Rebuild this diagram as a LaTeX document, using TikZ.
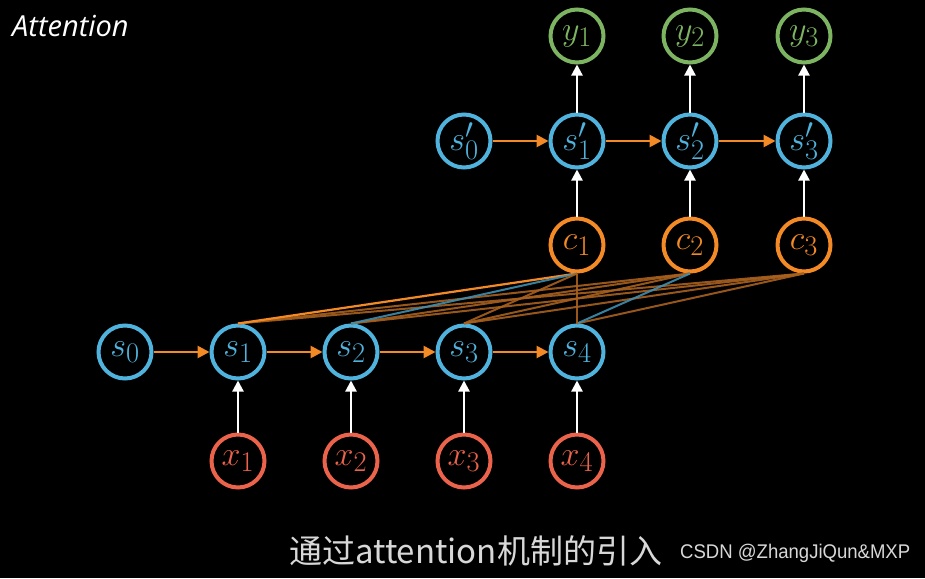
\documentclass[tikz,border=0pt]{standalone}
\usepackage{graphicx}
\usepackage{fontspec}
\setmainfont{Liberation Sans}
\newfontfamily\cjkfont{Noto Sans CJK SC}
\newfontfamily\titlefont{Open Sans}
\usetikzlibrary{arrows.meta}
\definecolor{cblue}{HTML}{4FB3DD}
\definecolor{corange}{HTML}{F48A25}
\definecolor{cred}{HTML}{EC634B}
\definecolor{cgreen}{HTML}{7DB461}
\definecolor{cbrown}{HTML}{A8601E}
\definecolor{cgray}{HTML}{D8D8D8}
\newcommand\mth[1]{\scalebox{1.37}{$#1$}}
\begin{document}
\begin{tikzpicture}[x=1pt,y=-1pt,
  nd/.style={circle,line width=4pt,minimum size=53pt,inner sep=0pt,fill=black,
    font=\Huge},
  bnode/.style={nd,draw=cblue,text=cblue},
  onode/.style={nd,draw=corange,text=corange},
  rnode/.style={nd,draw=cred,text=cred},
  gnode/.style={nd,draw=cgreen,text=cgreen},
  harr/.style={draw=corange,line width=2.6pt,-{Triangle[length=12pt,width=12pt]}},
  varr/.style={draw=white,line width=2.2pt,-{Triangle[length=11pt,width=11pt]}},
  att/.style={draw=cbrown,line width=2pt,opacity=0.9},
  attb/.style={draw=cblue!80!black,line width=2pt,opacity=0.9},
  atto/.style={draw=corange,line width=2.2pt}]
\fill[black] (0,0) rectangle (925,578);
\useasboundingbox (0,0) rectangle (925,578);
\node[text=white,anchor=west,inner sep=0pt,font=\titlefont\itshape\fontsize{29}{31}\selectfont] (title) at (12,26) {Attention};
% encoder
\node[bnode] (s0) at (125,352) {\mth{s_0}};
\node[bnode] (s1) at (238,352) {\mth{s_1}};
\node[bnode] (s2) at (351,352) {\mth{s_2}};
\node[bnode] (s3) at (464,352) {\mth{s_3}};
\node[bnode] (s4) at (577,352) {\mth{s_4}};
\node[rnode] (x1) at (238,461) {\mth{x_1}};
\node[rnode] (x2) at (351,461) {\mth{x_2}};
\node[rnode] (x3) at (464,461) {\mth{x_3}};
\node[rnode] (x4) at (577,461) {\mth{x_4}};
% context
\node[onode] (c1) at (577,245) {\mth{c_1}};
\node[onode] (c2) at (690,245) {\mth{c_2}};
\node[onode] (c3) at (804,245) {\mth{c_3}};
% decoder
\node[bnode] (t0) at (464,141) {\mth{s'_0}};
\node[bnode] (t1) at (577,141) {\mth{s'_1}};
\node[bnode] (t2) at (690,141) {\mth{s'_2}};
\node[bnode] (t3) at (804,141) {\mth{s'_3}};
\node[gnode] (y1) at (577,36) {\mth{y_1}};
\node[gnode] (y2) at (690,36) {\mth{y_2}};
\node[gnode] (y3) at (804,36) {\mth{y_3}};
% attention lines
\draw[att] (c3.south) -- (s1.north);
\draw[att] (c3.south) -- (s2.north);
\draw[att] (c3.south) -- (s3.north);
\draw[att] (c3.south) -- (s4.north);
\draw[att] (c2.south) -- (s1.north);
\draw[att] (c2.south) -- (s2.north);
\draw[att] (c2.south) -- (s3.north);
\draw[attb] (c2.south) -- (s4.north);
\draw[atto] (c1.south) -- (s1.north);
\draw[attb] (c1.south) -- (s2.north);
\draw[att] (c1.south) -- (s3.north);
\draw[att] (c1.south) -- (s4.north);
% horizontal arrows
\draw[harr] (s0) -- (s1);
\draw[harr] (s1) -- (s2);
\draw[harr] (s2) -- (s3);
\draw[harr] (s3) -- (s4);
\draw[harr] (t0) -- (t1);
\draw[harr] (t1) -- (t2);
\draw[harr] (t2) -- (t3);
% vertical arrows
\draw[varr] (x1) -- (s1);
\draw[varr] (x2) -- (s2);
\draw[varr] (x3) -- (s3);
\draw[varr] (x4) -- (s4);
\draw[varr] (c1) -- (t1);
\draw[varr] (c2) -- (t2);
\draw[varr] (c3) -- (t3);
\draw[varr] (t1) -- (y1);
\draw[varr] (t2) -- (y2);
\draw[varr] (t3) -- (y3);
% captions
\node[text=cgray,anchor=west,inner sep=0pt,font=\cjkfont\fontsize{33}{36}\selectfont] (cap) at (289,551) {通过attention机制的引入};
\node[text=cgray,anchor=west,inner sep=0pt,font=\fontsize{18}{20}\selectfont] (wm) at (680,553) {\scalebox{1.03}[1.1]{CSDN @ZhangJiQun\&MXP}};
\end{tikzpicture}
\end{document}
